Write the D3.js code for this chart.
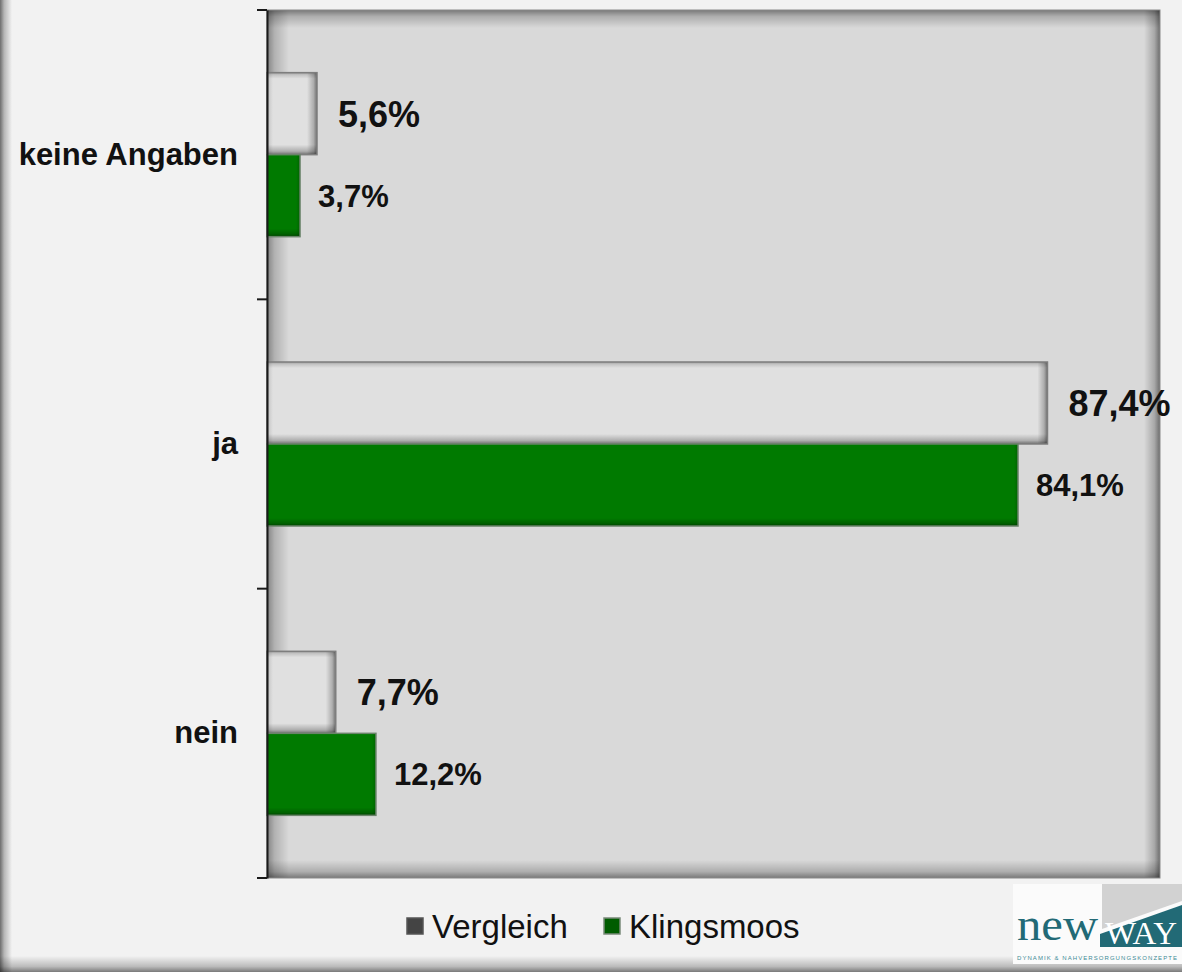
<!DOCTYPE html>
<html>
<head>
<meta charset="utf-8">
<script src="https://cdn.jsdelivr.net/npm/d3@7"></script>
<style>
  html, body { margin: 0; padding: 0; background: #f2f2f2; }
  svg { display: block; font-family: Arial, "Liberation Sans", sans-serif; }
</style>
</head>
<body>
<div id="chart"></div>
<script>
const categories = ["keine Angaben", "ja", "nein"];
const seriesNames = ["Vergleich", "Klingsmoos"];
const vergleich = [5.6, 87.4, 7.7];
const klingsmoos = [3.7, 84.1, 12.2];

const W = 1182, H = 972;
const plot = { left: 267, right: 1160, top: 10, bottom: 878 };

const de = d3.formatLocale({ decimal: ",", thousands: ".", grouping: [3], currency: ["", " €"] });
const fmt = d => de.format(".1f")(d) + "%";

const svg = d3.select("#chart").append("svg")
  .attr("width", W)
  .attr("height", H);

const defs = svg.append("defs");

// edge fade gradients: dark on the named side, fading inwards
const dirs = {
  left:   { x1: 0, y1: 0, x2: 1, y2: 0 },
  right:  { x1: 1, y1: 0, x2: 0, y2: 0 },
  top:    { x1: 0, y1: 0, x2: 0, y2: 1 },
  bottom: { x1: 0, y1: 1, x2: 0, y2: 0 }
};
Object.entries(dirs).forEach(([k, v]) => {
  const g = defs.append("linearGradient").attr("id", "fade-" + k)
    .attr("x1", v.x1).attr("y1", v.y1).attr("x2", v.x2).attr("y2", v.y2);
  g.append("stop").attr("offset", 0).attr("stop-color", "#000").attr("stop-opacity", 1);
  g.append("stop").attr("offset", 0.35).attr("stop-color", "#000").attr("stop-opacity", 0.45);
  g.append("stop").attr("offset", 1).attr("stop-color", "#000").attr("stop-opacity", 0);
});

// draws an inner shade along one side of a box
function shade(parent, box, side, size, opacity) {
  let r;
  if (side === "left") r = [box.x, box.y, size, box.h];
  if (side === "right") r = [box.x + box.w - size, box.y, size, box.h];
  if (side === "top") r = [box.x, box.y, box.w, size];
  if (side === "bottom") r = [box.x, box.y + box.h - size, box.w, size];
  parent.append("rect")
    .attr("x", r[0]).attr("y", r[1])
    .attr("width", Math.max(0, r[2])).attr("height", Math.max(0, r[3]))
    .attr("fill", `url(#fade-${side})`)
    .attr("opacity", opacity);
}

// page background with shadow on left and bottom
svg.append("rect")
  .attr("width", W).attr("height", H)
  .attr("fill", "#f2f2f2");
const page = { x: 0, y: 0, w: W, h: H };
shade(svg, page, "left", 12, 0.55);
shade(svg, page, "bottom", 16, 0.5);

// plot area
const plotBox = { x: plot.left, y: plot.top, w: plot.right - plot.left, h: plot.bottom - plot.top };
svg.append("rect")
  .attr("x", plotBox.x).attr("y", plotBox.y)
  .attr("width", plotBox.w).attr("height", plotBox.h)
  .attr("fill", "#d9d9d9");
shade(svg, plotBox, "top", 18, 0.45);
shade(svg, plotBox, "left", 22, 0.4);
shade(svg, plotBox, "right", 16, 0.5);
shade(svg, plotBox, "bottom", 18, 0.45);
svg.append("rect")
  .attr("x", plotBox.x).attr("y", plotBox.y)
  .attr("width", plotBox.w).attr("height", plotBox.h)
  .attr("fill", "none")
  .attr("stroke", "#8a8a8a")
  .attr("stroke-width", 1);

const x = d3.scaleLinear().domain([0, 100]).range([plot.left, plot.right]);

const y = d3.scaleBand()
  .domain(categories)
  .range([plot.top, plot.bottom])
  .padding(0);

const yInner = d3.scaleBand()
  .domain(seriesNames)
  .range([0, y.bandwidth()])
  .paddingInner(0)
  .paddingOuter(0.764);

const rows = categories.map((c, i) => ({ cat: c, values: [
  { s: "Vergleich", v: vergleich[i] },
  { s: "Klingsmoos", v: klingsmoos[i] }
]}));

const groups = svg.selectAll(".grp")
  .data(rows)
  .enter().append("g")
  .attr("class", "grp")
  .attr("transform", d => `translate(0,${y(d.cat)})`);

groups.each(function(row) {
  const g = d3.select(this);
  row.values.forEach(d => {
    const box = { x: x(0), y: yInner(d.s), w: x(d.v) - x(0), h: yInner.bandwidth() };
    const grey = d.s === "Vergleich";
    g.append("rect")
      .attr("x", box.x).attr("y", box.y)
      .attr("width", box.w).attr("height", box.h)
      .attr("fill", grey ? "#e0e0e0" : "#007a00");
    if (grey) {
      shade(g, box, "right", 10, 0.5);
      shade(g, box, "bottom", 10, 0.5);
      shade(g, box, "top", 6, 0.3);
      shade(g, box, "left", 6, 0.2);
    } else {
      shade(g, box, "bottom", 8, 0.45);
      shade(g, box, "right", 4, 0.25);
    }
    g.append("rect")
      .attr("x", box.x).attr("y", box.y)
      .attr("width", box.w).attr("height", box.h)
      .attr("fill", "none")
      .attr("stroke", grey ? "#7e7e7e" : "#6a846a")
      .attr("stroke-width", 1.5);
    g.append("text")
      .attr("x", x(d.v) + (grey ? 21 : 18))
      .attr("y", box.y + box.h / 2)
      .attr("dy", "0.36em")
      .attr("font-size", grey ? 36 : 31)
      .attr("font-weight", "bold")
      .attr("fill", "#111")
      .text(fmt(d.v));
  });
});

// category axis
const axis = svg.append("g")
  .attr("transform", `translate(${plot.left},0)`)
  .call(d3.axisLeft(y).tickSize(0).tickPadding(29));
axis.select(".domain").attr("stroke", "#1a1a1a").attr("stroke-width", 2);
axis.selectAll("text")
  .attr("font-size", 31)
  .attr("font-weight", "bold")
  .attr("fill", "#111")
  .attr("font-family", "Arial, 'Liberation Sans', sans-serif");

// tick marks between categories
const tickPos = categories.map(c => y(c)).concat([y.range()[1]]);
svg.selectAll(".catTick")
  .data(tickPos)
  .enter().append("line")
  .attr("class", "catTick")
  .attr("x1", plot.left - 10).attr("x2", plot.left)
  .attr("y1", d => d).attr("y2", d => d)
  .attr("stroke", "#1a1a1a")
  .attr("stroke-width", 2);

// legend
const legendItems = [
  { name: "Vergleich", color: "#444444", stroke: "#555", x: 407 },
  { name: "Klingsmoos", color: "#005c00", stroke: "#7a8a7a", x: 604 }
];
const legend = svg.selectAll(".leg")
  .data(legendItems)
  .enter().append("g")
  .attr("class", "leg")
  .attr("transform", d => `translate(${d.x},918)`);
legend.append("rect")
  .attr("width", 16).attr("height", 16)
  .attr("fill", d => d.color)
  .attr("stroke", d => d.stroke)
  .attr("stroke-width", 1.5);
legend.append("text")
  .attr("x", 25).attr("y", 20)
  .attr("font-size", 33)
  .attr("fill", "#111")
  .text(d => d.name);

// logo
const logo = svg.append("g");
logo.append("rect")
  .attr("x", 1013).attr("y", 884).attr("width", 169).attr("height", 80)
  .attr("fill", "#fbfbfb");
logo.append("polygon")
  .attr("points", "1102,884 1182,884 1182,901 1102,929")
  .attr("fill", "#d2d2d2");
logo.append("polygon")
  .attr("points", "1100,934 1182,905 1182,947 1100,947")
  .attr("fill", "#226a76");
logo.append("text")
  .attr("x", 1105).attr("y", 944)
  .attr("font-family", "'Liberation Serif', 'DejaVu Serif', serif")
  .attr("font-size", 31)
  .attr("textLength", 72)
  .attr("lengthAdjust", "spacingAndGlyphs")
  .attr("fill", "#ffffff")
  .text("WAY");
logo.append("text")
  .attr("x", 1017).attr("y", 940)
  .attr("font-family", "'Liberation Serif', 'DejaVu Serif', serif")
  .attr("font-size", 46)
  .attr("textLength", 81)
  .attr("lengthAdjust", "spacingAndGlyphs")
  .attr("fill", "#226a76")
  .text("new");
logo.append("text")
  .attr("x", 1017).attr("y", 960)
  .attr("font-size", 6)
  .attr("textLength", 160)
  .attr("fill", "#3d8a96")
  .text("DYNAMIK & NAHVERSORGUNGSKONZEPTE");
</script>
</body>
</html>
